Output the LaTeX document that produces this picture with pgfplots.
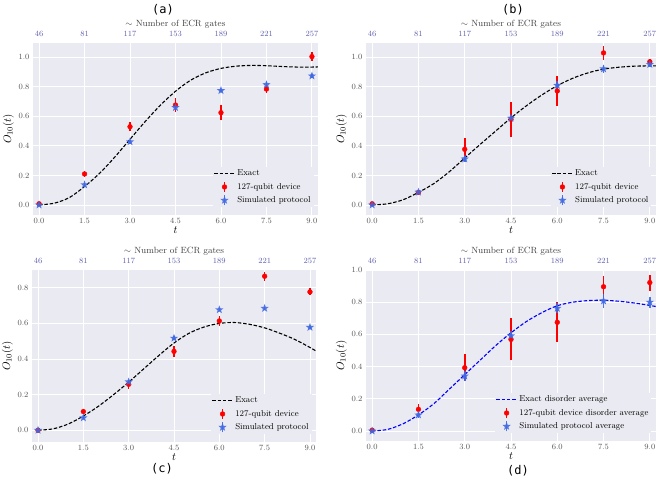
\documentclass[border=0pt]{standalone}
\usepackage{fontspec}
\usepackage{pgfplots}
\pgfplotsset{compat=1.18}
\usepackage{pgfplotstable}
\newfontfamily\titlefont{DejaVu Sans Mono}
\definecolor{bg}{HTML}{EAEAF2}
\definecolor{tickgray}{HTML}{555555}
\definecolor{topblue}{RGB}{95,95,175}
\definecolor{rblue}{HTML}{4169E1}

\pgfdeclareplotmark{fstar}{%
  \pgfpathmoveto{\pgfpointpolar{90}{\pgfplotmarksize}}%
  \pgfpathlineto{\pgfpointpolar{126}{0.42\pgfplotmarksize}}%
  \pgfpathlineto{\pgfpointpolar{162}{\pgfplotmarksize}}%
  \pgfpathlineto{\pgfpointpolar{198}{0.42\pgfplotmarksize}}%
  \pgfpathlineto{\pgfpointpolar{234}{\pgfplotmarksize}}%
  \pgfpathlineto{\pgfpointpolar{270}{0.42\pgfplotmarksize}}%
  \pgfpathlineto{\pgfpointpolar{306}{\pgfplotmarksize}}%
  \pgfpathlineto{\pgfpointpolar{342}{0.42\pgfplotmarksize}}%
  \pgfpathlineto{\pgfpointpolar{18}{\pgfplotmarksize}}%
  \pgfpathlineto{\pgfpointpolar{54}{0.42\pgfplotmarksize}}%
  \pgfpathclose
  \pgfusepathqfill}

% ---------- data ----------
\pgfplotstableread{
t y e
0 0.008 0.008
1.5 0.21 0.02
3 0.53 0.03
4.5 0.677 0.05
6 0.625 0.05
7.5 0.785 0.03
9 1.005 0.03
}\aRed
\pgfplotstableread{
t y e
0 0.0 0.01
1.5 0.137 0.015
3 0.428 0.012
4.5 0.66 0.02
6 0.775 0.012
7.5 0.815 0.015
9 0.874 0.015
}\aBlue
\pgfplotstableread{
t y
0 0
0.5 0.012
1 0.05
1.5 0.125
2 0.215
2.5 0.325
3 0.445
3.5 0.565
4 0.675
4.5 0.77
5 0.845
5.5 0.895
6 0.925
6.5 0.94
7 0.945
7.5 0.943
8 0.938
8.5 0.934
9 0.934
9.2 0.935
}\aExact

\pgfplotstableread{
t y e
0 0.008 0.005
1.5 0.085 0.01
3 0.377 0.075
4.5 0.58 0.12
6 0.772 0.1
7.5 1.03 0.045
9 0.97 0.02
}\bRed
\pgfplotstableread{
t y e
0 0.0 0.01
1.5 0.087 0.01
3 0.312 0.02
4.5 0.588 0.02
6 0.81 0.03
7.5 0.922 0.025
9 0.952 0.02
}\bBlue
\pgfplotstableread{
t y
0 0
0.5 0.008
1 0.035
1.5 0.085
2 0.145
2.5 0.225
3 0.318
3.5 0.41
4 0.5
4.5 0.59
5 0.672
5.5 0.745
6 0.808
6.5 0.858
7 0.895
7.5 0.92
8 0.933
8.5 0.94
9 0.942
9.2 0.942
}\bExact

\pgfplotstableread{
t y e
0 0.0 0.005
1.5 0.105 0.015
3 0.258 0.025
4.5 0.443 0.03
6 0.614 0.03
7.5 0.865 0.025
9 0.777 0.02
}\cRed
\pgfplotstableread{
t y e
0 0.0 0.005
1.5 0.07 0.005
3 0.272 0.01
4.5 0.517 0.01
6 0.677 0.01
7.5 0.685 0.008
9 0.578 0.01
}\cBlue
\pgfplotstableread{
t y
0 0
0.5 0.008
1 0.035
1.5 0.08
2 0.135
2.5 0.2
3 0.27
3.5 0.345
4 0.42
4.5 0.49
5 0.545
5.5 0.58
6 0.6
6.5 0.605
7 0.595
7.5 0.575
8 0.545
8.5 0.51
9 0.465
9.2 0.445
}\cExact

\pgfplotstableread{
t y e
0 0.005 0.005
1.5 0.135 0.03
3 0.393 0.085
4.5 0.569 0.13
6 0.675 0.125
7.5 0.896 0.065
9 0.922 0.05
}\dRed
\pgfplotstableread{
t y e
0 0.0 0.01
1.5 0.1 0.02
3 0.342 0.03
4.5 0.592 0.03
6 0.762 0.03
7.5 0.808 0.045
9 0.8 0.035
}\dBlue
\pgfplotstableread{
t y
0 0
0.5 0.01
1 0.045
1.5 0.1
2 0.17
2.5 0.26
3 0.35
3.5 0.44
4 0.53
4.5 0.61
5 0.68
5.5 0.735
6 0.778
6.5 0.8
7 0.81
7.5 0.812
8 0.806
8.5 0.795
9 0.78
9.2 0.773
}\dExact

\pgfplotsset{
  base/.style={
    scale only axis,
    axis background/.style={fill=bg},
    axis line style={draw=none},
    major tick length=0pt,
    grid=major,
    grid style={white, line width=0.9pt},
    xmin=-0.2, xmax=9.2,
    xtick={0,1.5,3,4.5,6,7.5,9},
    ytick distance=0.2,
    xticklabel style={font=\fontsize{8}{9}\selectfont, text=tickgray,
      /pgf/number format/.cd, fixed, fixed zerofill, precision=1},
    yticklabel style={font=\fontsize{8}{9}\selectfont, text=tickgray,
      /pgf/number format/.cd, fixed, fixed zerofill, precision=1},
    xlabel={$t$},
    ylabel={$O_{10}(t)$},
    xlabel style={font=\fontsize{11}{12}\selectfont, yshift=4pt},
    ylabel style={font=\fontsize{11}{12}\selectfont, yshift=-2pt},
    legend style={draw=none, fill=bg, at={(0.985,0.045)}, anchor=south east,
      font=\fontsize{8.6}{10}\selectfont, row sep=1.8pt, inner sep=1pt},
    legend cell align=left,
    legend image code/.code={\draw[##1] (0cm,0cm) -- (0.72cm,0cm);},
  },
  topax/.style={
    scale only axis,
    hide y axis,
    axis x line*=top,
    axis line style={draw=none},
    major tick length=0pt,
    xmin=-0.2, xmax=9.2,
    xtick={0,1.5,3,4.5,6,7.5,9},
    xticklabels={46,81,117,153,189,221,257},
    xticklabel style={font=\fontsize{8}{9}\selectfont, text=topblue, yshift=3pt},
    xlabel={$\sim$ Number of ECR gates},
    xlabel style={font=\fontsize{9}{10}\selectfont, text=black!75, yshift=-4.5pt},
  },
  exact/.style={black, dashed, line width=1.1pt, dash pattern=on 3.5pt off 1.8pt, smooth},
  redpts/.style={only marks, mark=*, mark size=2.4pt, color=red,
    error bars/.cd, y dir=both, y explicit, error mark=none,
    error bar style={line width=1.6pt, draw=red, solid}},
  bluepts/.style={only marks, mark=fstar, mark size=4.3pt, color=rblue, opacity=0.9,
    error bars/.cd, y dir=both, y explicit, error mark=none,
    error bar style={line width=1.6pt, draw=rblue, solid}},
  redleg/.style={legend image code/.code={
    \draw[red, line width=1.4pt] (0.36cm,-5pt)--(0.36cm,5pt);
    \draw[mark repeat=2,mark phase=2,##1] plot coordinates {(0cm,0cm) (0.36cm,0cm) (0.72cm,0cm)};}},
  blueleg/.style={legend image code/.code={
    \draw[rblue, line width=1.4pt] (0.36cm,-5pt)--(0.36cm,5pt);
    \draw[mark repeat=2,mark phase=2,##1] plot coordinates {(0cm,0cm) (0.36cm,0cm) (0.72cm,0cm)};}},
}

\begin{document}
\begin{tikzpicture}[x=1pt,y=1pt]
\path[use as bounding box] (0,0) rectangle (665,491);

% ---------------- (a) ----------------
\begin{axis}[base, at={(33pt,276pt)}, anchor=south west, width=285pt, height=172pt,
  ymin=-0.068, ymax=1.097]
\addplot[exact] table[x=t,y=y] {\aExact};
\addlegendentry{Exact}
\addplot[redleg, redpts] table[x=t,y=y,y error=e] {\aRed};
\addlegendentry{127-qubit device}
\addplot[blueleg, bluepts] table[x=t,y=y,y error=e] {\aBlue};
\addlegendentry{Simulated protocol}
\end{axis}
\begin{axis}[topax, at={(33pt,276pt)}, anchor=south west, width=285pt, height=172pt, ymin=0, ymax=1]
\end{axis}
\node[font=\titlefont\fontsize{12}{14}\selectfont] at (163,481) {(a)};

% ---------------- (b) ----------------
\begin{axis}[base, at={(366pt,276pt)}, anchor=south west, width=290pt, height=172pt,
  ymin=-0.068, ymax=1.097]
\addplot[exact] table[x=t,y=y] {\bExact};
\addlegendentry{Exact}
\addplot[redleg, redpts] table[x=t,y=y,y error=e] {\bRed};
\addlegendentry{127-qubit device}
\addplot[blueleg, bluepts] table[x=t,y=y,y error=e] {\bBlue};
\addlegendentry{Simulated protocol}
\end{axis}
\begin{axis}[topax, at={(366pt,276pt)}, anchor=south west, width=290pt, height=172pt, ymin=0, ymax=1]
\end{axis}
\node[font=\titlefont\fontsize{12}{14}\selectfont] at (513,481) {(b)};

% ---------------- (c) ----------------
\begin{axis}[base, at={(32pt,49pt)}, anchor=south west, width=284pt, height=172pt,
  ymin=-0.066, ymax=0.9]
\addplot[exact] table[x=t,y=y] {\cExact};
\addlegendentry{Exact}
\addplot[redleg, redpts] table[x=t,y=y,y error=e] {\cRed};
\addlegendentry{127-qubit device}
\addplot[blueleg, bluepts] table[x=t,y=y,y error=e] {\cBlue};
\addlegendentry{Simulated protocol}
\end{axis}
\begin{axis}[topax, at={(32pt,49pt)}, anchor=south west, width=284pt, height=172pt, ymin=0, ymax=1]
\end{axis}
\node[font=\titlefont\fontsize{12}{14}\selectfont] at (162,22) {(c)};

% ---------------- (d) ----------------
\begin{axis}[base, at={(366pt,50pt)}, anchor=south west, width=290pt, height=171pt,
  ymin=-0.062, ymax=1.0]
\addplot[exact, blue] table[x=t,y=y] {\dExact};
\addlegendentry{Exact disorder average}
\addplot[redleg, redpts] table[x=t,y=y,y error=e] {\dRed};
\addlegendentry{127-qubit device disorder average}
\addplot[blueleg, bluepts] table[x=t,y=y,y error=e] {\dBlue};
\addlegendentry{Simulated protocol average}
\end{axis}
\begin{axis}[topax, at={(366pt,50pt)}, anchor=south west, width=290pt, height=171pt, ymin=0, ymax=1]
\end{axis}
\node[font=\titlefont\fontsize{12}{14}\selectfont] at (518,20) {(d)};
\end{tikzpicture}
\end{document}
